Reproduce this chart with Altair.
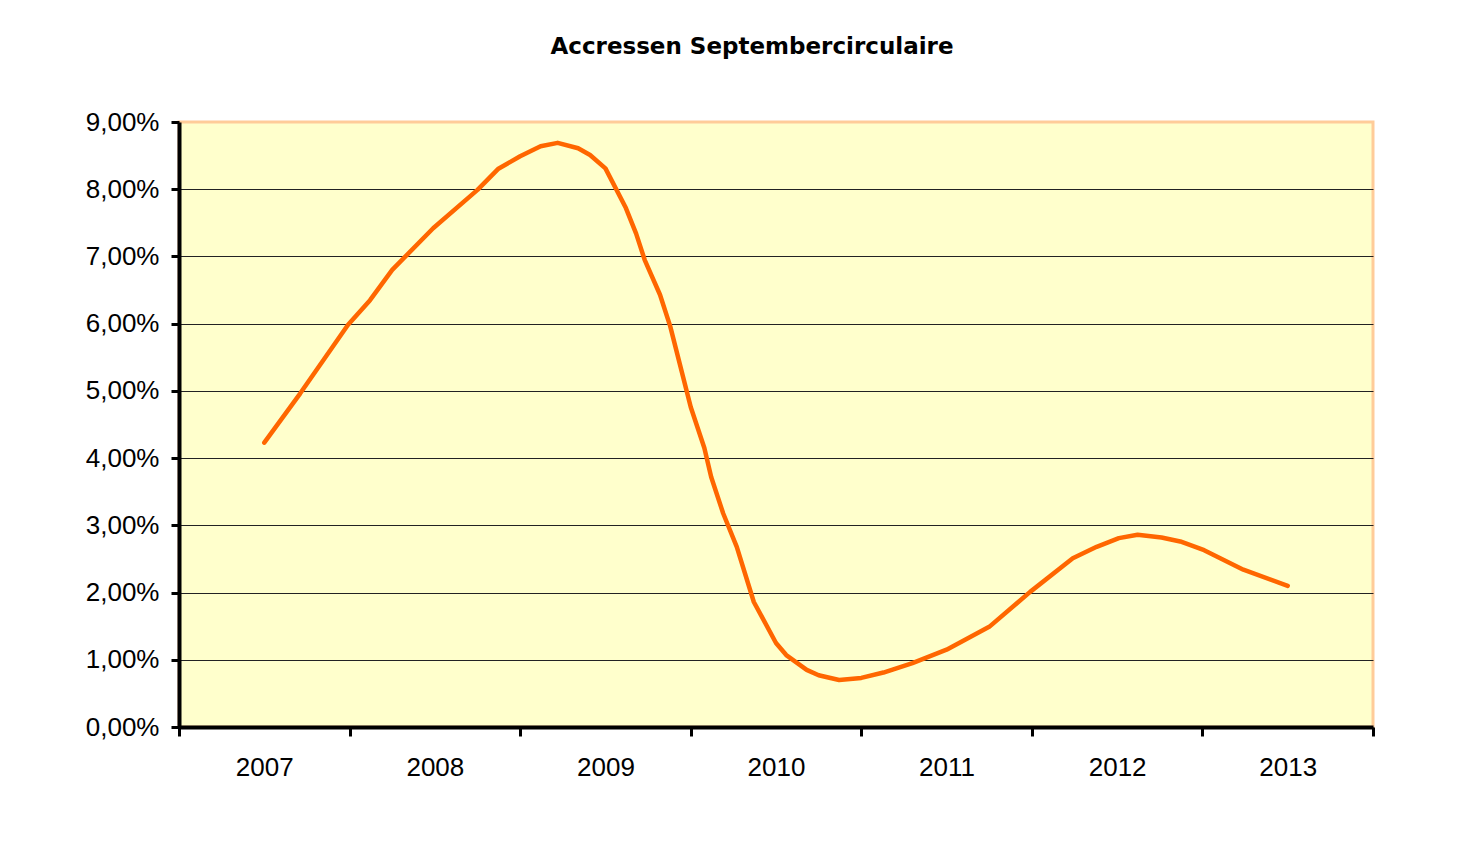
import altair as alt
import pandas as pd

# Curve (fractional year position, rate in %)
years = [2007.00, 2007.21, 2007.49, 2007.62, 2007.75, 2007.99, 2008.25, 2008.37,
         2008.50, 2008.62, 2008.72, 2008.84, 2008.91, 2009.00, 2009.12, 2009.18,
         2009.23, 2009.32, 2009.38, 2009.50, 2009.58, 2009.62, 2009.69, 2009.77,
         2009.87, 2010.00, 2010.06, 2010.18, 2010.25, 2010.37, 2010.50, 2010.63,
         2010.80, 2011.00, 2011.25, 2011.49, 2011.74, 2011.88, 2012.01, 2012.12,
         2012.26, 2012.37, 2012.51, 2012.74, 2013.00]
rates = [4.23, 4.96, 5.98, 6.35, 6.80, 7.42, 7.99, 8.30,
         8.49, 8.64, 8.69, 8.61, 8.51, 8.31, 7.72, 7.34,
         6.95, 6.43, 5.96, 4.76, 4.15, 3.72, 3.18, 2.68,
         1.86, 1.25, 1.07, 0.85, 0.77, 0.70, 0.73, 0.81,
         0.95, 1.15, 1.49, 2.01, 2.51, 2.68, 2.81, 2.86,
         2.82, 2.76, 2.63, 2.34, 2.10]

year_labels = [2007, 2008, 2009, 2010, 2011, 2012, 2013]
y_ticks = [0, 1, 2, 3, 4, 5, 6, 7, 8, 9]

df = pd.DataFrame({"jaar": years, "accres": [r / 100 for r in rates]})

x_values = []
for y in year_labels:
    x_values += [y - 0.5, y]
x_values.append(year_labels[-1] + 0.5)

chart = alt.Chart(df).mark_line(
    color="#FF6600", strokeWidth=4.5, interpolate="linear", strokeCap="round", strokeJoin="round"
).encode(
    x=alt.X("jaar:Q",
            scale=alt.Scale(domain=[year_labels[0] - 0.5, year_labels[-1] + 0.5], nice=False, zero=False),
            axis=alt.Axis(values=x_values, title=None, grid=False,
                          labelExpr="datum.value % 1 == 0 ? toString(datum.value) : ''",
                          tickOpacity={"condition": {"test": "datum.value % 1 == 0", "value": 0}, "value": 1},
                          labelOverlap=False, labelFlush=False,
                          tickSize=9, tickWidth=3, tickColor="black",
                          domainColor="black", domainWidth=4,
                          labelFont="Liberation Sans", labelFontSize=26, labelColor="black",
                          labelPadding=18)),
    y=alt.Y("accres:Q",
            scale=alt.Scale(domain=[0, 0.09], nice=False),
            axis=alt.Axis(values=[v / 100 for v in y_ticks], title=None,
                          labelExpr="replace(format(datum.value, '.2%'), '.', ',')",
                          grid=True, gridWidth=1,
                          gridColor={"condition": {"test": "datum.value > 0.085", "value": "transparent"}, "value": "#222222"},
                          tickSize=8, tickWidth=3, tickColor="black",
                          domainColor="black", domainWidth=4,
                          labelFont="Liberation Sans", labelFontSize=26, labelColor="black",
                          labelPadding=12, labelOverlap=False, labelFlush=False)),
).properties(
    width=1194,
    height=605,
    title=alt.TitleParams("Accressen Septembercirculaire", font="DejaVu Sans", fontSize=23,
                          fontWeight="bold", color="black", anchor="middle", dx=-24,
                          frame="group", offset=50),
    autosize=alt.AutoSizeParams(type="none"),
    padding={"left": 171, "top": 114, "right": 93, "bottom": 107},
    background="white",
).configure_view(
    fill="#FFFFCC", stroke="#FFCC99", strokeWidth=3
)

chart.save("out.html", embed_options={"renderer": "svg", "actions": False})
